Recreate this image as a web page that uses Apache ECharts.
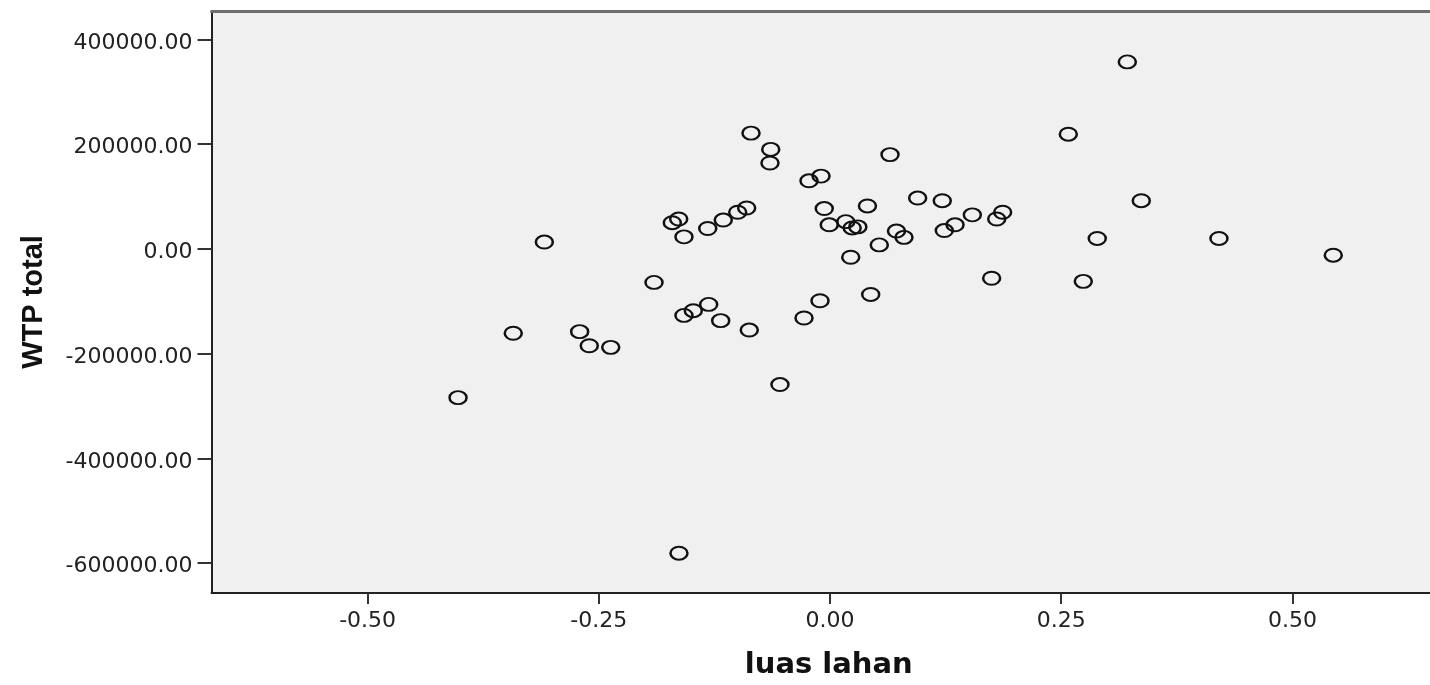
<!DOCTYPE html>
<html>
<head>
<meta charset="utf-8">
<title>WTP total vs luas lahan</title>
<script src="https://cdn.jsdelivr.net/npm/echarts@6/dist/echarts.min.js"></script>
<style>
  html, body { margin: 0; padding: 0; background: #fff; }
  #chart { width: 1430px; height: 685px; }
</style>
</head>
<body>
<div id="chart"></div>
<script>
// partial regression scatter: luas lahan (x) vs WTP total (y)
const luasLahan = [
  0.3215, -0.0854, 0.2577, -0.0641, -0.0649, 0.0649, -0.0227, -0.0097, 0.0948, 0.1214,
  0.3366, 0.0405, -0.0062, -0.0901, -0.0998, -0.1154, -0.1322, -0.1705, -0.1636, -0.1579,
  0.1539, 0.1867, 0.1803, 0.1352, 0.1236, 0.0171, -0.0008, 0.0240, 0.0301, 0.0719,
  0.0800, 0.0533, -0.3089, 0.2890, 0.4206, 0.5442, 0.0224, -0.1903, 0.1748, 0.2739,
  0.0440, -0.0108, -0.1312, -0.1478, -0.1579, -0.1182, -0.0281, -0.3425, -0.2707, -0.2603,
  -0.2371, -0.0873, -0.0541, -0.4022, -0.1633
];
const wtpTotal = [
  357000, 221000, 219000, 190000, 164000, 180000, 130000, 139000, 97000, 92000,
  92000, 82000, 77000, 78000, 70000, 55000, 39000, 50000, 57000, 23000,
  65000, 70000, 57000, 46000, 35000, 52000, 46000, 40000, 42000, 34000,
  22000, 7600, 13000, 20000, 20000, -12000, -16000, -64000, -56000, -62000,
  -87000, -99000, -106000, -118000, -127000, -137000, -132000, -161000, -158000, -185000,
  -188000, -155000, -259000, -284000, -581000
];
const xTicks = [-0.5, -0.25, 0, 0.25, 0.5];
const yTicks = [-600000, -400000, -200000, 0, 200000, 400000];

const xMin = -0.6688;
const xMax = 0.6488;

const points = luasLahan.map((x, i) => [x, wtpTotal[i]]);

const chart = echarts.init(document.getElementById('chart'));

chart.setOption({
  animation: false,
  grid: {
    left: 211.5,
    top: 11,
    right: 0,
    bottom: 91.7,
    show: true,
    backgroundColor: '#f0f0f0',
    borderWidth: 0
  },
  xAxis: [
    {
      type: 'value',
      min: xMin,
      max: xMax,
      name: 'luas lahan',
      nameLocation: 'middle',
      nameGap: 58,
      nameTextStyle: {
        fontFamily: 'DejaVu Sans',
        fontWeight: 'bold',
        fontSize: 29,
        color: '#111',
        padding: [0, 0, 0, 16]
      },
      axisLine: { onZero: false, lineStyle: { color: '#222', width: 2 } },
      axisTick: {
        customValues: xTicks,
        length: 11,
        lineStyle: { color: '#333', width: 2 }
      },
      axisLabel: {
        customValues: xTicks,
        margin: 17,
        fontFamily: 'DejaVu Sans',
        fontSize: 22,
        color: '#222',
        formatter: (v) => v.toFixed(2)
      },
      splitLine: { show: false }
    },
    {
      // top frame line only
      type: 'value',
      position: 'top',
      min: xMin,
      max: xMax,
      axisLine: { onZero: false, lineStyle: { color: '#6e6e6e', width: 3 } },
      axisTick: { show: false },
      axisLabel: { show: false },
      splitLine: { show: false }
    }
  ],
  yAxis: {
    type: 'value',
    min: -657000,
    max: 454200,
    name: 'WTP total',
    nameLocation: 'middle',
    nameGap: 163,
    nameTextStyle: {
      fontFamily: 'Liberation Sans',
      fontWeight: 'bold',
      fontSize: 29,
      color: '#111'
    },
    axisLine: { onZero: false, lineStyle: { color: '#222', width: 2 } },
    axisTick: {
      customValues: yTicks,
      length: 14,
      lineStyle: { color: '#333', width: 2 }
    },
    axisLabel: {
      customValues: yTicks,
      margin: 19,
      verticalAlign: 'top',
      lineHeight: 7,
      fontFamily: 'DejaVu Sans',
      fontSize: 22,
      color: '#222',
      formatter: (v) => v.toFixed(2)
    },
    splitLine: { show: false }
  },
  series: [
    {
      type: 'scatter',
      data: points,
      symbol: 'path://M0,50 A50,50 0 1,1 100,50 A50,50 0 1,1 0,50 Z',
      symbolSize: [17, 13],
      itemStyle: {
        color: 'rgba(0,0,0,0)',
        borderColor: '#111',
        borderWidth: 2.2,
        opacity: 1
      },
      emphasis: { disabled: true }
    }
  ]
});
</script>
</body>
</html>
